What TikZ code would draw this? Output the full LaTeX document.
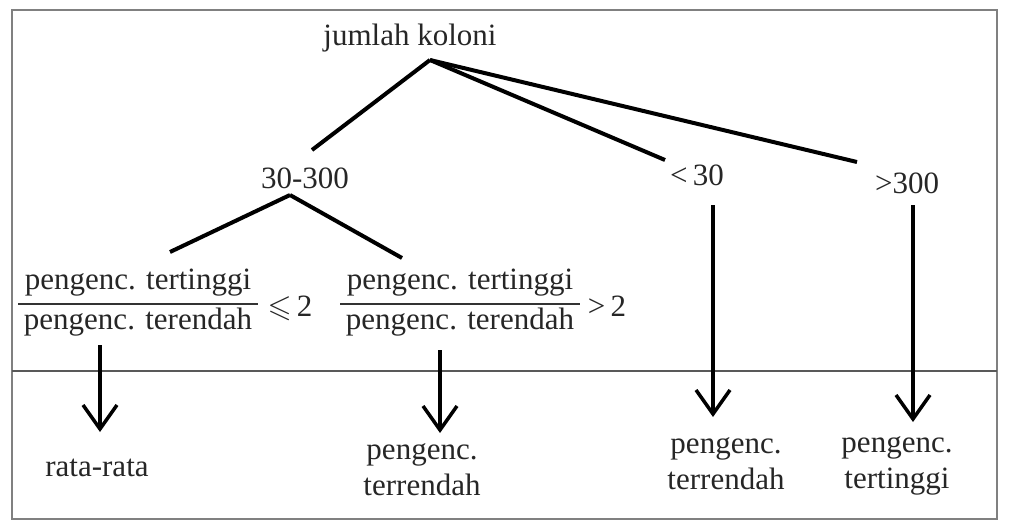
\documentclass[tikz,border=0pt]{standalone}
\usepackage{amssymb}
\usepackage{fontspec}
\setmainfont{Liberation Serif}
\usetikzlibrary{arrows.meta}
\begin{document}
\begin{tikzpicture}[x=1pt,y=-1pt,
  lbl/.style={font=\fontsize{31}{36}\selectfont, text=black!85, inner sep=0pt, align=center},
  branch/.style={line width=4pt},
  fracbar/.style={line width=2.5pt, black!80},
  down/.style={line width=3.5pt,-{Straight Barb[length=24pt,width=34pt]}}]
\useasboundingbox (0,0) rectangle (1011,530);
\draw[gray, line width=2pt] (12,10) rectangle (997,519);
\coordinate (sepL) at (12,371);
\coordinate (sepR) at (997,371);
\draw[gray!70!black, line width=1.5pt] (sepL) -- (sepR);

% tree labels
\node[lbl] (root) at (410,38) {jumlah koloni};
\node[lbl] (mid) at (305,178) {30-300};
\node[lbl] (low) at (697,175) {<\,30};
\node[lbl] (high) at (907,183) {>300};

\coordinate (apex) at (430,60);
\coordinate (midtop) at (312,150);
\coordinate (lowtop) at (665,160);
\coordinate (hightop) at (857,162);
\draw[branch] (apex) -- (midtop);
\draw[branch] (apex) -- (lowtop);
\draw[branch] (apex) -- (hightop);

\coordinate (midapex) at (290,195);
\coordinate (leftend) at (170,252);
\coordinate (rightend) at (402,258);
\draw[branch] (midapex) -- (leftend);
\draw[branch] (midapex) -- (rightend);

% left fraction
\node[lbl] (numL) at (138,283) {pengenc. tertinggi};
\node[lbl] (denL) at (138,322) {pengenc. terendah};
\coordinate (barLa) at (18,304);
\coordinate (barLb) at (258,304);
\draw[fracbar] (barLa) -- (barLb);
\node[lbl] (relL) at (290,308) {$\leqslant$\,2};

% right fraction
\node[lbl] (numR) at (460,283) {pengenc. tertinggi};
\node[lbl] (denR) at (460,322) {pengenc. terendah};
\coordinate (barRa) at (340,304);
\coordinate (barRb) at (580,304);
\draw[fracbar] (barRa) -- (barRb);
\node[lbl] (relR) at (607,306) {>\,2};

% arrows
\coordinate (a1s) at (100,345); \coordinate (a1e) at (100,432);
\coordinate (a2s) at (440,350); \coordinate (a2e) at (440,433);
\coordinate (a3s) at (713,205); \coordinate (a3e) at (713,417);
\coordinate (a4s) at (913,205); \coordinate (a4e) at (913,422);
\draw[down] (a1s) -- (a1e);
\draw[down] (a2s) -- (a2e);
\draw[down] (a3s) -- (a3e);
\draw[down] (a4s) -- (a4e);

% results
\node[lbl] (r1) at (97,468) {rata-rata};
\node[lbl] (r2) at (422,470) {pengenc.\\terrendah};
\node[lbl] (r3) at (726,464) {pengenc.\\terrendah};
\node[lbl] (r4) at (897,466) {pengenc.\\tertinggi};
\end{tikzpicture}
\end{document}
